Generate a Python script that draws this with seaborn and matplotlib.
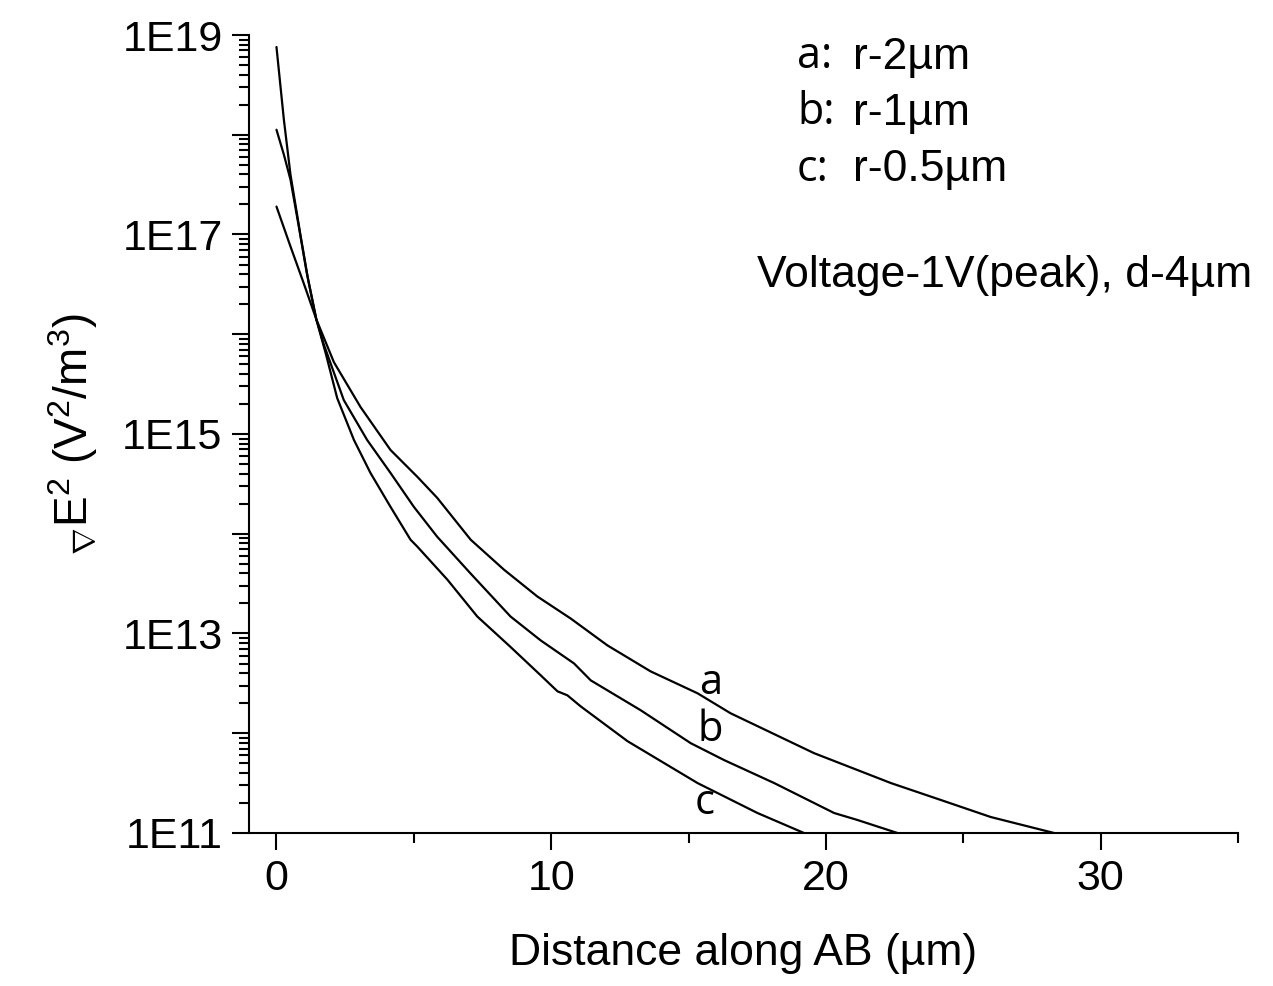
import numpy as np
import pandas as pd
import matplotlib
matplotlib.use("Agg")
import matplotlib.pyplot as plt
import matplotlib.ticker as mticker
import seaborn as sns

# curve a: r-2um  (log10 of grad E^2)
a_x = [0, 0.27, 0.51, 0.87, 1.15, 1.45, 2.09, 3.06, 4.15, 5.13, 5.85, 7.07, 8.28,
       9.5, 10.71, 12.05, 13.62, 15.33, 16.53, 19.57, 22.37, 24.19, 26.0, 28.3]
a_logy = [18.88, 18.15, 17.6, 17.0, 16.55, 16.15, 15.72, 15.27, 14.84, 14.57, 14.36, 13.94, 13.64,
          13.37, 13.15, 12.88, 12.62, 12.40, 12.20, 11.80, 11.50, 11.33, 11.16, 11.0]
# curve b: r-1um
b_x = [0, 0.27, 0.51, 0.8, 1.1, 1.45, 1.72, 2.45, 3.30, 4.15, 5.0, 5.85, 7.07, 8.52,
       9.62, 10.83, 11.44, 13.26, 15.08, 16.3, 18.12, 20.3, 21.15, 22.6]
b_logy = [18.05, 17.8, 17.55, 17.1, 16.62, 16.15, 15.9, 15.34, 14.94, 14.61, 14.27, 13.97, 13.6, 13.17,
          12.93, 12.70, 12.53, 12.23, 11.90, 11.73, 11.50, 11.20, 11.13, 11.0]
# curve c: r-0.5um
c_x = [0, 0.51, 0.98, 1.45, 1.8, 2.21, 2.82, 3.42, 4.15, 4.88, 5.13, 6.22, 7.31, 8.5,
       9.62, 10.23, 10.59, 11.07, 12.78, 15.33, 17.51, 19.2]
c_logy = [17.28, 16.88, 16.52, 16.15, 15.8, 15.36, 14.94, 14.61, 14.27, 13.94, 13.87, 13.54, 13.17, 12.87,
          12.58, 12.42, 12.38, 12.27, 11.92, 11.50, 11.20, 11.0]

frames = []
for name, xs, ly in [("a", a_x, a_logy), ("b", b_x, b_logy), ("c", c_x, c_logy)]:
    frames.append(pd.DataFrame({"dist": xs, "grad": 10.0 ** np.array(ly), "curve": name}))
df = pd.concat(frames, ignore_index=True)

sns.set_style("ticks")
plt.rcParams['font.family'] = ['Liberation Sans', 'DejaVu Sans']
plt.rcParams['text.color'] = 'black'
plt.rcParams['axes.labelcolor'] = 'black'
plt.rcParams['xtick.color'] = 'black'
plt.rcParams['ytick.color'] = 'black'
plt.rcParams['mathtext.fontset'] = 'custom'
plt.rcParams['mathtext.rm'] = 'Liberation Sans'
plt.rcParams['mathtext.it'] = 'Liberation Sans'

fig = plt.figure(figsize=(12.73, 9.86), dpi=100)
ax = fig.add_axes([0.1956, 0.1552, 0.9725 - 0.1956, 0.9645 - 0.1552])

sns.lineplot(data=df, x="dist", y="grad", units="curve", estimator=None,
             color="black", linewidth=1.6, sort=False, ax=ax, legend=False)

ax.set_yscale("log")
ax.set_ylim(1e11, 1e19)
ax.set_xlim(-1, 35)

ax.xaxis.set_major_locator(mticker.MultipleLocator(10))
ax.xaxis.set_minor_locator(mticker.MultipleLocator(5))
ax.yaxis.set_major_locator(mticker.LogLocator(base=10, numticks=20))
ax.yaxis.set_minor_locator(mticker.LogLocator(base=10, subs=np.arange(2, 10), numticks=20))
ax.yaxis.set_minor_formatter(mticker.NullFormatter())
ax.yaxis.set_major_formatter(mticker.FuncFormatter(
    lambda v, p: "1E%d" % round(np.log10(v)) if round(np.log10(v)) % 2 == 1 else ""))

ax.tick_params(which="major", direction="out", length=12, width=1.5, labelsize=31, pad=7)
ax.tick_params(which="minor", direction="out", length=7, width=1.5)

for s in ["top", "right"]:
    ax.spines[s].set_visible(False)
for s in ["left", "bottom"]:
    ax.spines[s].set_linewidth(1.5)
    ax.spines[s].set_color("black")

ax.set_xlabel("Distance along AB (\u00b5m)", fontsize=32, labelpad=24)
ax.set_ylabel(r"$_{\nabla}$E$^2$ (V$^2$/m$^3$)", fontsize=33, labelpad=16)

# curve labels
lab_font = ['Open Sans', 'DejaVu Sans']
ax.text(15.8, 3.2e12, "a", fontsize=30, family=lab_font, ha="center", va="center")
ax.text(15.8, 1.07e12, "b", fontsize=30, family=lab_font, ha="center", va="center")
ax.text(15.6, 2.0e11, "c", fontsize=30, family=lab_font, ha="center", va="center")

# key text
keys = [("a:", "r-2\u00b5m", 0.9724), ("b:", "r-1\u00b5m", 0.902), ("c:", "r-0.5\u00b5m", 0.831)]
for k, v, yy in keys:
    ax.text(0.554, yy, k, transform=ax.transAxes, fontsize=31, family=lab_font, ha="left", va="center")
    ax.text(0.611, yy, v, transform=ax.transAxes, fontsize=32, ha="left", va="center")
ax.text(0.514, 0.698, "Voltage-1V(peak), d-4\u00b5m", transform=ax.transAxes, fontsize=32,
        ha="left", va="center")

plt.savefig("out.png", dpi=100)
